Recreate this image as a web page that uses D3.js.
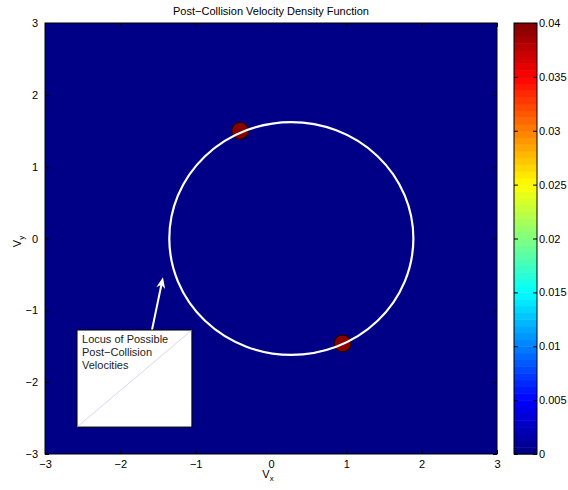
<!DOCTYPE html>
<html>
<head>
<meta charset="utf-8">
<script src="https://cdn.jsdelivr.net/npm/d3@7"></script>
<style>
body { margin: 0; background: #fff; }
text { font-family: "Liberation Sans", Arial, sans-serif; }
</style>
</head>
<body>
<svg width="568" height="490"></svg>
<script>
// chart data
const title = 'Post\u2212Collision Velocity Density Function';
const xTicks = [-3, -2, -1, 0, 1, 2, 3];
const yTicks = [-3, -2, -1, 0, 1, 2, 3];
const cTicks = [0, 0.005, 0.01, 0.015, 0.02, 0.025, 0.03, 0.035, 0.04];
const peakVx = [-0.41, 0.95];
const peakVy = [1.50, -1.46];
const peakVal = [0.04, 0.04];
const locusCenter = [0.27, 0];
const locusRadius = 1.62;
const noteLines = ['Locus of Possible', 'Post\u2212Collision', 'Velocities'];
const noteBox = [-2.575, -1.274, -1.05, -2.625]; // x0, y0, x1, y1
const arrowFrom = [-1.58, -1.274];
const arrowTo = [-1.434, -0.54];

const svg = d3.select('svg');
const margin = { top: 23, left: 45 };
const innerWidth = 452, innerHeight = 431;

// matlab jet
const jet = t => {
  const c = v => Math.round(255 * Math.max(0, Math.min(1, v)));
  return d3.rgb(c(1.5 - Math.abs(4 * t - 3)), c(1.5 - Math.abs(4 * t - 2)), c(1.5 - Math.abs(4 * t - 1))).toString();
};
const nColors = 64;
const level = v => Math.min(nColors - 1, Math.floor(v / 0.04 * nColors));
const colorOf = v => jet((level(v) + 0.5) / nColors);

const x = d3.scaleLinear().domain([-3, 3]).range([0, innerWidth]);
const y = d3.scaleLinear().domain([-3, 3]).range([innerHeight, 0]);

const g = svg.append('g').attr('transform', `translate(${margin.left}, ${margin.top})`);

g.append('rect').attr('width', innerWidth).attr('height', innerHeight).style('fill', colorOf(0));

// density peaks
g.selectAll('circle.peak')
  .data(peakVx.map((d, i) => ({ vx: d, vy: peakVy[i], v: peakVal[i] })))
  .join('circle')
  .attr('class', 'peak')
  .attr('cx', d => x(d.vx))
  .attr('cy', d => y(d.vy))
  .attr('r', 8.5)
  .style('fill', d => colorOf(d.v))
  .style('stroke', '#1a0000')
  .style('stroke-width', 1.2);

// locus circle
g.append('ellipse')
  .attr('cx', x(locusCenter[0]))
  .attr('cy', y(locusCenter[1]))
  .attr('rx', x(locusRadius) - x(0))
  .attr('ry', y(0) - y(locusRadius))
  .style('fill', 'none')
  .style('stroke', '#fff')
  .style('stroke-width', 2.2);

// annotation arrow
const ax0 = x(arrowFrom[0]), ay0 = y(arrowFrom[1]);
const ax1 = x(arrowTo[0]), ay1 = y(arrowTo[1]);
const ang = Math.atan2(ay1 - ay0, ax1 - ax0);
const hl = 11, hw = 4.5;
g.append('line')
  .attr('x1', ax0).attr('y1', ay0)
  .attr('x2', ax1 - hl * 0.7 * Math.cos(ang)).attr('y2', ay1 - hl * 0.7 * Math.sin(ang))
  .style('stroke', '#fff').style('stroke-width', 2);
const bx = ax1 - hl * Math.cos(ang), by = ay1 - hl * Math.sin(ang);
g.append('path')
  .attr('d', `M${ax1},${ay1}L${bx + hw * Math.sin(ang)},${by - hw * Math.cos(ang)}L${ax1 - hl * 0.7 * Math.cos(ang)},${ay1 - hl * 0.7 * Math.sin(ang)}L${bx - hw * Math.sin(ang)},${by + hw * Math.cos(ang)}Z`)
  .style('fill', '#fff');

// annotation box
const bx0 = x(noteBox[0]), by0 = y(noteBox[1]), bx1 = x(noteBox[2]), by1 = y(noteBox[3]);
g.append('rect')
  .attr('x', bx0).attr('y', by0)
  .attr('width', bx1 - bx0).attr('height', by1 - by0)
  .style('fill', '#fff').style('stroke', '#000').style('stroke-width', 1);
g.append('line')
  .attr('x1', bx0).attr('y1', by1).attr('x2', bx1).attr('y2', by0)
  .style('stroke', '#b8b8e8').style('stroke-width', 0.6);
g.selectAll('text.note')
  .data(noteLines)
  .join('text')
  .attr('class', 'note')
  .attr('x', bx0 + 5)
  .attr('y', (d, i) => by0 + 13 + i * 13)
  .style('font-size', '11px')
  .style('fill', '#222')
  .text(d => d);

// axes box + ticks
g.append('rect').attr('width', innerWidth).attr('height', innerHeight)
  .style('fill', 'none').style('stroke', '#000').style('stroke-width', 1);

const minus = d => d3.format('')(d).replace('-', '\u2212');
g.append('g').attr('transform', `translate(0, ${innerHeight})`)
  .call(d3.axisBottom(x).tickValues(xTicks).tickSizeInner(-4).tickSizeOuter(0).tickPadding(6).tickFormat(minus));
g.append('g')
  .attr('class', 'bare')
  .call(d3.axisTop(x).tickValues(xTicks).tickSizeInner(-4).tickSizeOuter(0));
g.append('g')
  .call(d3.axisLeft(y).tickValues(yTicks).tickSizeInner(-4).tickSizeOuter(0).tickPadding(7).tickFormat(minus));
g.append('g').attr('transform', `translate(${innerWidth}, 0)`)
  .attr('class', 'bare')
  .call(d3.axisRight(y).tickValues(yTicks).tickSizeInner(-4).tickSizeOuter(0));

// colorbar
const cb = svg.append('g').attr('transform', 'translate(514, 23)');
const cbW = 23;
const c = d3.scaleLinear().domain([0, 0.04]).range([innerHeight, 0]);
cb.selectAll('rect.level')
  .data(d3.range(nColors))
  .join('rect')
  .attr('class', 'level')
  .attr('x', 0)
  .attr('y', d => c((d + 1) * 0.04 / nColors))
  .attr('width', cbW)
  .attr('height', d => c(d * 0.04 / nColors) - c((d + 1) * 0.04 / nColors) + 0.5)
  .style('fill', d => jet((d + 0.5) / nColors));
cb.append('rect').attr('width', cbW).attr('height', innerHeight)
  .style('fill', 'none').style('stroke', '#000').style('stroke-width', 1);
cb.append('g').attr('transform', `translate(${cbW}, 0)`)
  .call(d3.axisRight(c).tickValues(cTicks).tickSizeInner(-4).tickSizeOuter(0).tickPadding(2).tickFormat(d => d3.format('')(d)));
cb.append('g')
  .attr('class', 'bare')
  .call(d3.axisLeft(c).tickValues(cTicks).tickSizeInner(-4).tickSizeOuter(0));

svg.selectAll('.bare .tick text').remove();
svg.selectAll('.tick text').style('font-size', '11px').style('fill', '#000');
svg.selectAll('.domain').remove();

// titles
svg.append('text').attr('x', margin.left + innerWidth / 2).attr('y', 15)
  .attr('text-anchor', 'middle').style('font-size', '11px').text(title);

const xl = svg.append('text').attr('x', margin.left + innerWidth / 2 - 3).attr('y', 478)
  .attr('text-anchor', 'middle').style('font-size', '11px');
xl.append('tspan').text('V');
xl.append('tspan').attr('dy', 3).style('font-size', '8px').text('x');

const yl = svg.append('text')
  .attr('transform', `translate(21, ${margin.top + innerHeight / 2 + 3}) rotate(-90)`)
  .attr('text-anchor', 'middle').style('font-size', '11px');
yl.append('tspan').text('V');
yl.append('tspan').attr('dy', 3).style('font-size', '8px').text('y');
</script>
</body>
</html>
